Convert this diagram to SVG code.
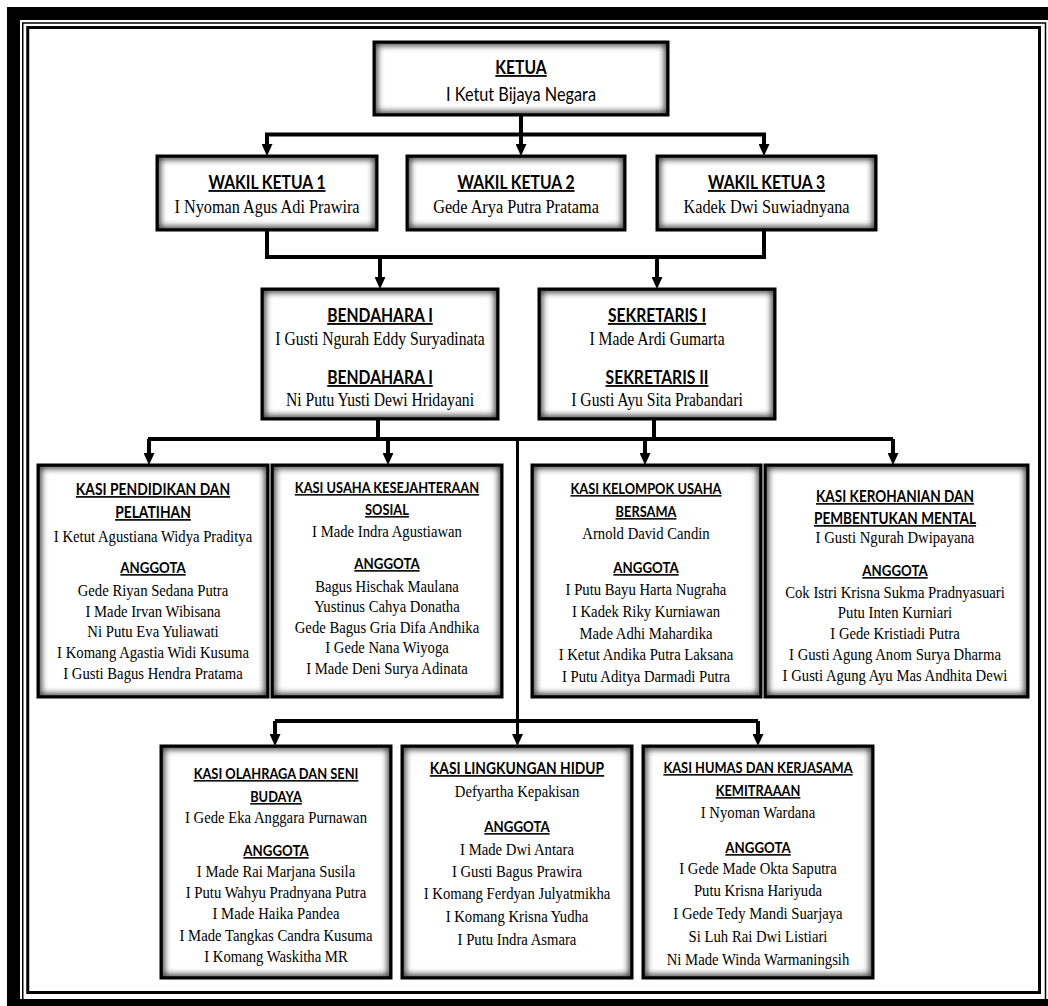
<svg xmlns="http://www.w3.org/2000/svg" width="1048" height="1006" viewBox="0 0 1048 1006">
<defs>
<style>
.bg{fill:#fff;stroke:#000;stroke-width:3}
.gl{fill:none;stroke:#000;stroke-width:3;filter:url(#glow);clip-path:url(#inner)}
.t{font-family:Lato,"Liberation Sans",sans-serif;font-weight:700;text-decoration:underline;text-anchor:middle;fill:#000}
.s{font-family:Lato,"Liberation Sans",sans-serif;text-anchor:middle;fill:#000;font-size:18.7px}
.n{font-family:"Liberation Serif","Times New Roman",serif;text-anchor:middle;fill:#000}
.top .t{font-size:18px}
.top .n{font-size:18px}
.top .n.w{font-size:18.7px}
.k .n{font-size:17.5px}
.k .t.ag{font-size:15.8px}
.conn path{fill:none;stroke:#000;stroke-width:4}
.conn path.thin{stroke-width:3}
.conn path.a{marker-end:url(#arr)}
.frame{fill:none;stroke:#000}
</style>
<clipPath id="inner" clipPathUnits="objectBoundingBox"><rect x="0" y="0" width="1" height="1"/></clipPath>
<filter id="glow" x="-15%" y="-25%" width="130%" height="150%">
<feMorphology in="SourceAlpha" operator="dilate" radius="1.5" result="d"/>
<feGaussianBlur in="d" stdDeviation="3.2" result="b"/>
<feComponentTransfer in="b" result="s"><feFuncA type="linear" slope="0.8"/></feComponentTransfer>
<feMerge><feMergeNode in="s"/><feMergeNode in="SourceGraphic"/></feMerge>
</filter>
<marker id="arr" markerUnits="userSpaceOnUse" markerWidth="12" markerHeight="11" refX="0" refY="5.5" orient="auto" viewBox="0 0 12 11">
<path d="M0,0 L12,5.5 L0,11 z" fill="#000"/>
</marker>
</defs>
<rect width="1048" height="1006" fill="#fff"/>
<g id="frame">
<rect class="frame" x="22.75" y="23" width="1022.75" height="977" stroke-width="1.5"/>
<rect class="frame" x="13.5" y="13.5" width="1050" height="992" stroke-width="13"/>
<rect class="frame" x="27.75" y="27.5" width="1011.75" height="965" stroke-width="3"/>
</g>
<g class="conn" id="connectors">
<path class="a" d="M521,115 V144"/>
<path class="a" d="M521,134.5 H267 V144"/>
<path class="a" d="M521,134.5 H764 V144"/>
<path d="M267,230 V257 H764 V230"/>
<path class="a" d="M380,257 V277"/>
<path class="a" d="M657,257 V277"/>
<path d="M378,419 V439"/>
<path d="M654,419 V439"/>
<path d="M148,439 H893"/>
<path class="a" d="M149,439 V453"/>
<path class="a" d="M388,439 V453"/>
<path class="a" d="M645,439 V453"/>
<path class="a" d="M893,439 V453"/>
<path class="thin a" d="M517.5,439 V734"/>
<path d="M275,721 H758"/>
<path class="a" d="M275,721 V734"/>
<path class="a" d="M758,721 V734"/>
</g>
<g id="ketua" class="top">
<rect class="bg" x="374" y="42" width="294" height="73"/>
<rect class="gl" x="374" y="42" width="294" height="73"/>
<g transform="translate(521 0) scale(0.87 1)">
<text class="t" x="0" y="74">KETUA</text>
<text class="s" x="0" y="101">I Ketut Bijaya Negara</text>
</g>
</g>
<g id="wakil1" class="top">
<rect class="bg" x="157" y="156" width="220" height="74"/>
<rect class="gl" x="157" y="156" width="220" height="74"/>
<g transform="translate(267 0) scale(0.87 1)">
<text class="t" x="0" y="189">WAKIL KETUA 1</text>
<text class="n w" x="0" y="213">I Nyoman Agus Adi Prawira</text>
</g>
</g>
<g id="wakil2" class="top">
<rect class="bg" x="407" y="156" width="218" height="74"/>
<rect class="gl" x="407" y="156" width="218" height="74"/>
<g transform="translate(516 0) scale(0.87 1)">
<text class="t" x="0" y="189">WAKIL KETUA 2</text>
<text class="n w" x="0" y="213">Gede Arya Putra Pratama</text>
</g>
</g>
<g id="wakil3" class="top">
<rect class="bg" x="657" y="156" width="219" height="74"/>
<rect class="gl" x="657" y="156" width="219" height="74"/>
<g transform="translate(766.5 0) scale(0.87 1)">
<text class="t" x="0" y="189">WAKIL KETUA 3</text>
<text class="n w" x="0" y="213">Kadek Dwi Suwiadnyana</text>
</g>
</g>
<g id="bendahara" class="top">
<rect class="bg" x="262" y="289" width="236" height="130"/>
<rect class="gl" x="262" y="289" width="236" height="130"/>
<g transform="translate(380 0) scale(0.87 1)">
<text class="t" x="0" y="322">BENDAHARA I</text>
<text class="n" x="0" y="345">I Gusti Ngurah Eddy Suryadinata</text>
<text class="t" x="0" y="384">BENDAHARA I</text>
<text class="n" x="0" y="406">Ni Putu Yusti Dewi Hridayani</text>
</g>
</g>
<g id="sekretaris" class="top">
<rect class="bg" x="539" y="289" width="236" height="130"/>
<rect class="gl" x="539" y="289" width="236" height="130"/>
<g transform="translate(657 0) scale(0.87 1)">
<text class="t" x="0" y="322">SEKRETARIS I</text>
<text class="n" x="0" y="345">I Made Ardi Gumarta</text>
<text class="t" x="0" y="384">SEKRETARIS II</text>
<text class="n" x="0" y="406">I Gusti Ayu Sita Prabandari</text>
</g>
</g>
<g id="kasi-pendidikan" class="k">
<rect class="bg" x="38" y="465" width="230" height="232"/>
<rect class="gl" x="38" y="465" width="230" height="232"/>
<g transform="translate(153 0) scale(0.84 1)" font-size="16.5">
<text class="t" x="0" y="495">KASI PENDIDIKAN DAN</text>
<text class="t" x="0" y="518">PELATIHAN</text>
<text class="n" x="0" y="542">I Ketut Agustiana Widya Praditya</text>
<text class="t ag" x="0" y="573">ANGGOTA</text>
<text class="n" x="0" y="596">Gede Riyan Sedana Putra</text>
<text class="n" x="0" y="617">I Made Irvan Wibisana</text>
<text class="n" x="0" y="637">Ni Putu Eva Yuliawati</text>
<text class="n" x="0" y="658">I Komang Agastia Widi Kusuma</text>
<text class="n" x="0" y="679">I Gusti Bagus Hendra Pratama</text>
</g>
</g>
<g id="kasi-usaha" class="k">
<rect class="bg" x="272" y="465" width="230" height="232"/>
<rect class="gl" x="272" y="465" width="230" height="232"/>
<g transform="translate(387 0) scale(0.84 1)" font-size="15.3">
<text class="t" x="0" y="493">KASI USAHA KESEJAHTERAAN</text>
<text class="t" x="0" y="515">SOSIAL</text>
<text class="n" x="0" y="537">I Made Indra Agustiawan</text>
<text class="t ag" x="0" y="569">ANGGOTA</text>
<text class="n" x="0" y="592">Bagus Hischak Maulana</text>
<text class="n" x="0" y="612">Yustinus Cahya Donatha</text>
<text class="n" x="0" y="633">Gede Bagus Gria Difa Andhika</text>
<text class="n" x="0" y="653">I Gede Nana Wiyoga</text>
<text class="n" x="0" y="674">I Made Deni Surya Adinata</text>
</g>
</g>
<g id="kasi-kelompok" class="k">
<rect class="bg" x="532" y="465" width="229" height="232"/>
<rect class="gl" x="532" y="465" width="229" height="232"/>
<g transform="translate(646 0) scale(0.84 1)" font-size="15.3">
<text class="t" x="0" y="494">KASI KELOMPOK USAHA</text>
<text class="t" x="0" y="517">BERSAMA</text>
<text class="n" x="0" y="539">Arnold David Candin</text>
<text class="t ag" x="0" y="573">ANGGOTA</text>
<text class="n" x="0" y="595">I Putu Bayu Harta Nugraha</text>
<text class="n" x="0" y="617">I Kadek Riky Kurniawan</text>
<text class="n" x="0" y="639">Made Adhi Mahardika</text>
<text class="n" x="0" y="660">I Ketut Andika Putra Laksana</text>
<text class="n" x="0" y="682">I Putu Aditya Darmadi Putra</text>
</g>
</g>
<g id="kasi-kerohanian" class="k">
<rect class="bg" x="765" y="465" width="263" height="232"/>
<rect class="gl" x="765" y="465" width="263" height="232"/>
<g transform="translate(895 0) scale(0.84 1)" font-size="16.2">
<text class="t" x="0" y="502">KASI KEROHANIAN DAN</text>
<text class="t" x="0" y="524">PEMBENTUKAN MENTAL</text>
<text class="n" x="0" y="543">I Gusti Ngurah Dwipayana</text>
<text class="t ag" x="0" y="576">ANGGOTA</text>
<text class="n" x="0" y="598">Cok Istri Krisna Sukma Pradnyasuari</text>
<text class="n" x="0" y="618">Putu Inten Kurniari</text>
<text class="n" x="0" y="639">I Gede Kristiadi Putra</text>
<text class="n" x="0" y="660">I Gusti Agung Anom Surya Dharma</text>
<text class="n" x="0" y="681">I Gusti Agung Ayu Mas Andhita Dewi</text>
</g>
</g>
<g id="kasi-olahraga" class="k">
<rect class="bg" x="161" y="746" width="230" height="232"/>
<rect class="gl" x="161" y="746" width="230" height="232"/>
<g transform="translate(276 0) scale(0.84 1)" font-size="15.3">
<text class="t" x="0" y="779">KASI OLAHRAGA DAN SENI</text>
<text class="t" x="0" y="802">BUDAYA</text>
<text class="n" x="0" y="823">I Gede Eka Anggara Purnawan</text>
<text class="t ag" x="0" y="856">ANGGOTA</text>
<text class="n" x="0" y="877">I Made Rai Marjana Susila</text>
<text class="n" x="0" y="898">I Putu Wahyu Pradnyana Putra</text>
<text class="n" x="0" y="919">I Made Haika Pandea</text>
<text class="n" x="0" y="941">I Made Tangkas Candra Kusuma</text>
<text class="n" x="0" y="962">I Komang Waskitha MR</text>
</g>
</g>
<g id="kasi-lingkungan" class="k">
<rect class="bg" x="402" y="746" width="230" height="232"/>
<rect class="gl" x="402" y="746" width="230" height="232"/>
<g transform="translate(517 0) scale(0.84 1)" font-size="16.5">
<text class="t" x="0" y="774">KASI LINGKUNGAN HIDUP</text>
<text class="n" x="0" y="797">Defyartha Kepakisan</text>
<text class="t ag" x="0" y="832">ANGGOTA</text>
<text class="n" x="0" y="855">I Made Dwi Antara</text>
<text class="n" x="0" y="877">I Gusti Bagus Prawira</text>
<text class="n" x="0" y="899">I Komang Ferdyan Julyatmikha</text>
<text class="n" x="0" y="922">I Komang Krisna Yudha</text>
<text class="n" x="0" y="945">I Putu Indra Asmara</text>
</g>
</g>
<g id="kasi-humas" class="k">
<rect class="bg" x="643" y="746" width="230" height="232"/>
<rect class="gl" x="643" y="746" width="230" height="232"/>
<g transform="translate(758 0) scale(0.84 1)" font-size="15.3">
<text class="t" x="0" y="773">KASI HUMAS DAN KERJASAMA</text>
<text class="t" x="0" y="796">KEMITRAAAN</text>
<text class="n" x="0" y="818">I Nyoman Wardana</text>
<text class="t ag" x="0" y="853">ANGGOTA</text>
<text class="n" x="0" y="874">I Gede Made Okta Saputra</text>
<text class="n" x="0" y="896">Putu Krisna Hariyuda</text>
<text class="n" x="0" y="919">I Gede Tedy Mandi Suarjaya</text>
<text class="n" x="0" y="942">Si Luh Rai Dwi Listiari</text>
<text class="n" x="0" y="965">Ni Made Winda Warmaningsih</text>
</g>
</g>
</svg>
